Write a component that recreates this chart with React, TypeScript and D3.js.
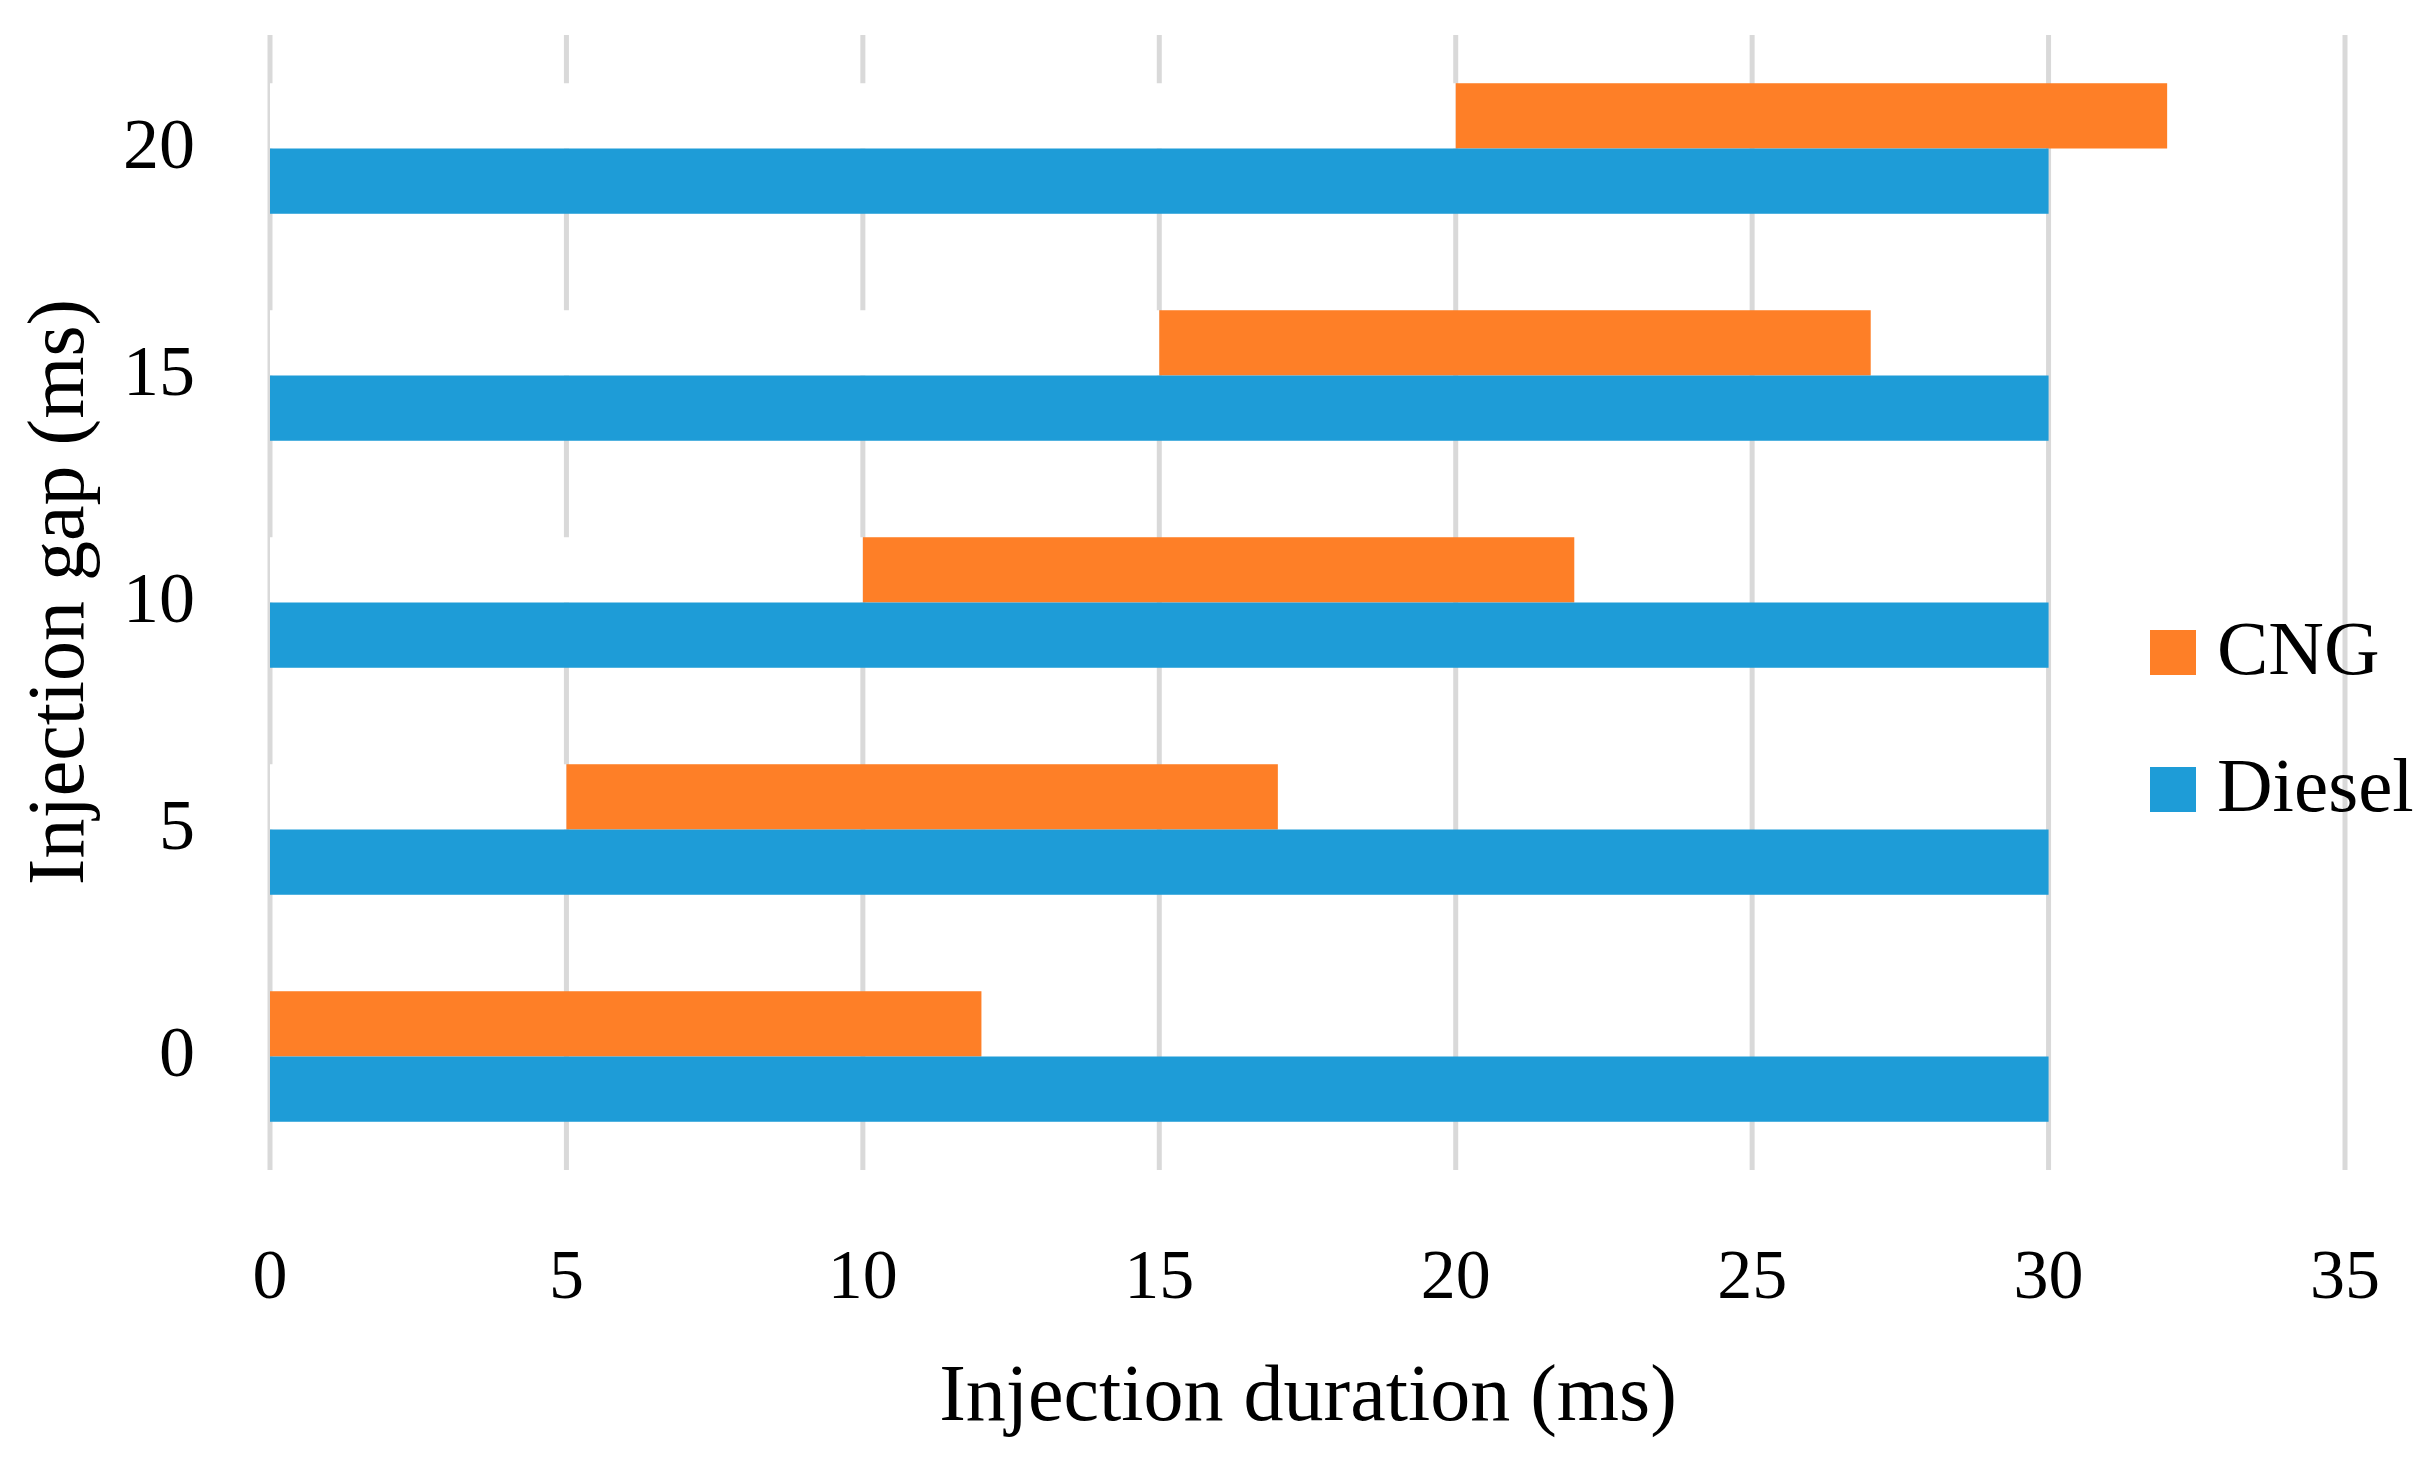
import React from "react";
import * as d3 from "d3";

const categories = ["0", "5", "10", "15", "20"];
const cngStart = [0, 5, 10, 15, 20];
const cngEnd = [12, 17, 22, 27, 32];
const dieselEnd = [30, 30, 30, 30, 30];
const xTicks = [0, 5, 10, 15, 20, 25, 30, 35];
const seriesNames = ["CNG", "Diesel"];

const W = 2433;
const H = 1462;
const ORANGE = "#FE7F27";
const BLUE = "#1E9CD7";
const GRID = "#D9D9D9";
const FONT = "'Liberation Serif', 'Times New Roman', serif";

export default function App() {
  const x = d3.scaleLinear().domain([0, 35]).range([270, 2345]);
  const y = d3
    .scaleBand<string>()
    .domain([...categories].reverse())
    .range([35, 1170])
    .paddingInner(0.425)
    .paddingOuter(0.2125);
  const bw = y.bandwidth() / 2;

  return (
    <svg
      width={W}
      height={H}
      style={{ position: "absolute", left: 0, top: 0, background: "#fff" }}
      fontFamily={FONT}
    >
      <rect x={0} y={0} width={W} height={H} fill="#fff" />
      {xTicks.map((t) => (
        <line
          key={"g" + t}
          x1={x(t)}
          x2={x(t)}
          y1={35}
          y2={1170}
          stroke={GRID}
          strokeWidth={5}
        />
      ))}
      {categories.map((c, i) => {
        const y0 = y(c)!;
        return (
          <g key={"b" + c}>
            {cngStart[i] > 0 && (
              <rect
                x={x(0)}
                y={y0}
                width={x(cngStart[i]) - x(0)}
                height={bw}
                fill="#fff"
              />
            )}
            <rect
              x={x(cngStart[i])}
              y={y0}
              width={x(cngEnd[i]) - x(cngStart[i])}
              height={bw}
              fill={ORANGE}
            />
            <rect
              x={x(0)}
              y={y0 + bw}
              width={x(dieselEnd[i]) - x(0)}
              height={bw}
              fill={BLUE}
            />
          </g>
        );
      })}
      {xTicks.map((t) => (
        <text
          key={"xt" + t}
          x={x(t)}
          y={1298}
          textAnchor="middle"
          fontSize={70}
          fill="#000"
        >
          {t}
        </text>
      ))}
      {categories.map((c) => (
        <text
          key={"yt" + c}
          x={195}
          y={y(c)! + y.bandwidth() / 2 + 3}
          textAnchor="end"
          dominantBaseline="middle"
          fontSize={72}
          fill="#000"
        >
          {c}
        </text>
      ))}
      <text x={1308} y={1420} textAnchor="middle" fontSize={80} fill="#000">
        Injection duration (ms)
      </text>
      <text
        transform={`translate(83, 592) rotate(-90)`}
        textAnchor="middle"
        fontSize={80}
        fill="#000"
      >
        Injection gap (ms)
      </text>
      {seriesNames.map((s, i) => (
        <g key={"l" + s} transform={`translate(2150, ${630 + i * 137})`}>
          <rect x={0} y={0} width={46} height={45} fill={i === 0 ? ORANGE : BLUE} />
          <text x={67} y={44} fontSize={77} fill="#000">
            {s}
          </text>
        </g>
      ))}
    </svg>
  );
}
